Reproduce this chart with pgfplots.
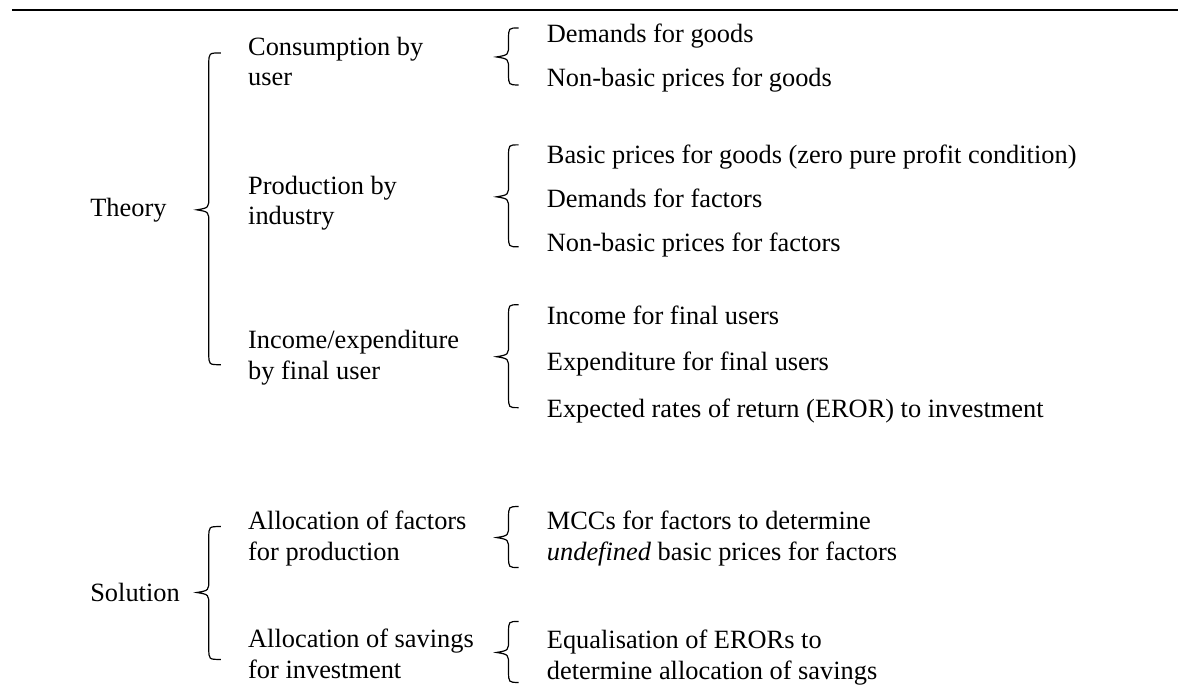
\documentclass[border=0pt]{standalone}
\usepackage{fontspec}
\setmainfont{Liberation Serif}
\usepackage{pgfplots}
\pgfplotsset{compat=1.18}
\newcommand{\brc}[6]{% tipx, vx, endx, top, tip, bottom
  \draw[line width=0.6pt] (axis cs:#3,#4) .. controls (axis cs:#2,#4) .. (axis cs:#2,\the\numexpr#4+11\relax)
   -- (axis cs:#2,\the\numexpr#5-13\relax) .. controls (axis cs:#2,\the\numexpr#5-2\relax) .. (axis cs:#1,#5)
   .. controls (axis cs:#2,\the\numexpr#5+2\relax) .. (axis cs:#2,\the\numexpr#5+13\relax)
   -- (axis cs:#2,\the\numexpr#6-11\relax) .. controls (axis cs:#2,#6) .. (axis cs:#3,#6);}
\newcommand{\lbl}[3]{\node[anchor=base west,inner sep=0pt] at (axis cs:#1,#2) {\fontsize{13.2}{15}\selectfont #3};}
\begin{document}
\begin{tikzpicture}
\begin{axis}[
  width=589.5pt, height=345.5pt, scale only axis,
  xmin=0, xmax=1179, ymin=0, ymax=691, y dir=reverse,
  hide axis, clip=false,
]
\path (axis cs:0,0) rectangle (axis cs:1179,691);
\draw[line width=1pt] (axis cs:12,10) -- (axis cs:1179,10);
% left column
\lbl{90}{217}{Theory}
\lbl{90}{602}{Solution}
\brc{197}{209}{221}{53}{210}{365}
\brc{197}{209}{221}{527}{593}{660}
% middle column
\lbl{248}{56}{Consumption by}
\lbl{248}{86}{user}
\lbl{248}{195}{Production by}
\lbl{248}{225}{industry}
\lbl{248}{349}{Income/expenditure}
\lbl{248}{380}{by final user}
\lbl{248}{530}{Allocation of factors}
\lbl{248}{561}{for production}
\lbl{248}{648}{Allocation of savings}
\lbl{248}{679}{for investment}
% right braces
\brc{497}{509}{519}{28}{57}{85}
\brc{497}{509}{519}{145}{197}{247}
\brc{497}{509}{519}{305}{357}{408}
\brc{497}{509}{519}{507}{538}{568}
\brc{497}{509}{519}{622}{653}{683}
% right column
\lbl{547}{43}{Demands for goods}
\lbl{547}{87}{Non-basic prices for goods}
\lbl{547}{164}{Basic prices for goods (zero pure profit condition)}
\lbl{547}{208}{Demands for factors}
\lbl{547}{252}{Non-basic prices for factors}
\lbl{547}{325}{Income for final users}
\lbl{547}{371}{Expenditure for final users}
\lbl{547}{418}{Expected rates of return (EROR) to investment}
\lbl{547}{530}{MCCs for factors to determine}
\lbl{547}{561}{\textit{undefined} basic prices for factors}
\lbl{547}{649}{Equalisation of ERORs to}
\lbl{547}{680}{determine allocation of savings}
\end{axis}
\end{tikzpicture}
\end{document}
